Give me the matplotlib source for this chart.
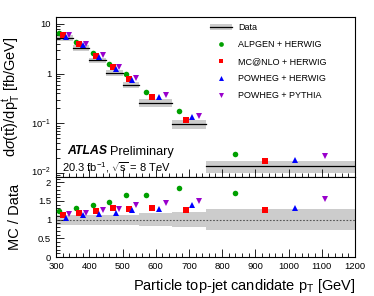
import matplotlib
matplotlib.use('Agg')
import matplotlib.pyplot as plt
from matplotlib.lines import Line2D
from matplotlib.patches import Patch
from matplotlib.ticker import MultipleLocator, LogLocator, NullFormatter, FixedLocator
import matplotlib.transforms as mtransforms
import numpy as np

plt.rcParams['font.family'] = ['Liberation Sans', 'DejaVu Sans']
plt.rcParams['mathtext.fontset'] = 'custom'
plt.rcParams['mathtext.rm'] = 'Liberation Sans'
plt.rcParams['mathtext.it'] = 'Liberation Sans:italic'
plt.rcParams['mathtext.bf'] = 'Liberation Sans:bold'

# ---------- DATA ----------
bin_edges = [300, 350, 400, 450, 500, 550, 650, 750, 1200]
data_xsec = [5.3, 3.3, 1.87, 1.05, 0.60, 0.26, 0.095, 0.0139]   # fb/GeV
data_relerr = [0.13, 0.13, 0.13, 0.13, 0.13, 0.17, 0.20, 0.28]

mc_names = ["ALPGEN + HERWIG", "MC@NLO + HERWIG", "POWHEG + HERWIG", "POWHEG + PYTHIA"]
ratio_alpgen = [1.22, 1.32, 1.40, 1.48, 1.65, 1.66, 1.85, 1.71]
ratio_mcatnlo = [1.12, 1.19, 1.22, 1.30, 1.28, 1.30, 1.25, 1.27]
ratio_powheg_herwig = [1.05, 1.12, 1.14, 1.19, 1.27, 1.28, 1.38, 1.31]
ratio_powheg_pythia = [1.15, 1.19, 1.25, 1.29, 1.38, 1.45, 1.51, 1.55]

mc_ratios = [ratio_alpgen, ratio_mcatnlo, ratio_powheg_herwig, ratio_powheg_pythia]
mc_colors = ['#00a000', '#ff0000', '#0000ff', '#9900cc']
mc_markers = ['o', 's', '^', 'v']
mc_sizes = [4, 4.2, 4.2, 4.2]

edges = np.array(bin_edges)
lo, hi = edges[:-1], edges[1:]
width = hi - lo
xsec = np.array(data_xsec)
relerr = np.array(data_relerr)

fig = plt.figure(figsize=(3.74, 2.96), dpi=100)
ax = fig.add_axes([0.150, 0.402, 0.799, 0.541])
rax = fig.add_axes([0.150, 0.131, 0.799, 0.271], sharex=ax)

band_col = '#cccccc'

# ---------- TOP PANEL ----------
for i in range(len(xsec)):
    ax.fill_between([lo[i], hi[i]], xsec[i] * (1 - relerr[i]), xsec[i] * (1 + relerr[i]),
                    color=band_col, lw=0, zorder=1)
    ax.plot([lo[i], hi[i]], [xsec[i], xsec[i]], color='black', lw=0.9, zorder=2)

for k in range(4):
    xpos = lo + (k + 1) * 0.2 * width
    ax.plot(xpos, xsec * np.array(mc_ratios[k]), ls='none', marker=mc_markers[k],
            color=mc_colors[k], ms=mc_sizes[k], mew=0, zorder=3)

ax.set_yscale('log')
ax.set_ylim(0.0083, 13.9)
ax.set_xlim(300, 1200)
ax.yaxis.set_major_locator(FixedLocator([0.01, 0.1, 1, 10]))
ax.set_yticklabels(['$10^{-2}$', '$10^{-1}$', '1', '10'])
ax.yaxis.set_minor_locator(LogLocator(base=10, subs=np.arange(2, 10)))
ax.yaxis.set_minor_formatter(NullFormatter())
ax.tick_params(axis='x', labelbottom=False)
ax.set_ylabel(r'd$\sigma$(t$\bar{\rm t}$)/dp$_{\rm T}^{\rm t}$ [fb/GeV]', fontsize=10.5)

# ATLAS label (figure pixel positions converted to fractions)
fig.text(67 / 374, 1 - 154.5 / 296, 'ATLAS', fontsize=8.8,
         fontweight='bold', fontstyle='italic')
fig.text(110 / 374, 1 - 154.5 / 296, 'Preliminary', fontsize=9.2)
fig.text(62 / 374, 1 - 171.5 / 296, r'20.3 fb$^{-1}$, $\sqrt{\rm s}$ = 8 TeV', fontsize=8)

handles = [(Patch(facecolor=band_col, lw=0), Line2D([], [], color='black', lw=0.9))]
for k in range(4):
    handles.append(Line2D([], [], ls='none', marker=mc_markers[k], color=mc_colors[k],
                          ms=mc_sizes[k] * 0.85, mew=0))
ax.legend(handles, ['Data'] + mc_names, loc='upper left',
          bbox_to_anchor=(210 / 374, 1 - 23 / 296), bbox_transform=fig.transFigure,
          frameon=False, fontsize=6.5, handlelength=2.4, handletextpad=0.75,
          labelspacing=0.88, borderpad=0, borderaxespad=0)

# ---------- RATIO PANEL ----------
for i in range(len(xsec)):
    rax.fill_between([lo[i], hi[i]], 1 - relerr[i], 1 + relerr[i], color=band_col, lw=0, zorder=1)
rax.axhline(1, color='#555555', ls=(0, (1.5, 1.5)), lw=0.8, zorder=2)
for k in range(4):
    xpos = lo + (k + 1) * 0.2 * width
    rax.plot(xpos, mc_ratios[k], ls='none', marker=mc_markers[k], color=mc_colors[k],
             ms=mc_sizes[k], mew=0, zorder=3)

rax.set_ylim(0, 2.14)
rax.yaxis.set_minor_locator(MultipleLocator(0.1))
rax.set_yticks([0, 0.5, 1, 1.5, 2])
rax.set_yticklabels(['0', '0.5', '1', '1.5', '2'])
rax.xaxis.set_major_locator(MultipleLocator(100))
rax.xaxis.set_minor_locator(MultipleLocator(20))
rax.set_ylabel('MC / Data', fontsize=10.5)
rax.set_xlabel(r'Particle top-jet candidate p$_{\rm T}$ [GeV]', fontsize=10.5, loc='right')

for a in (ax, rax):
    a.tick_params(which='both', direction='in', labelsize=6.8, width=0.6)
    a.tick_params(which='major', length=6)
    a.tick_params(which='minor', length=3)
    for s in a.spines.values():
        s.set_linewidth(0.8)
ax.yaxis.set_label_coords(-0.115, 0.5)
rax.yaxis.set_label_coords(-0.115, 0.5)

# nudge the lowest top-panel label up a little so it clears the ratio "2"
lab = ax.get_yticklabels()[0]
lab.set_transform(lab.get_transform() + mtransforms.ScaledTranslation(0, 2 / 100, fig.dpi_scale_trans))

plt.savefig('out.png', dpi=100)
plt.close()
